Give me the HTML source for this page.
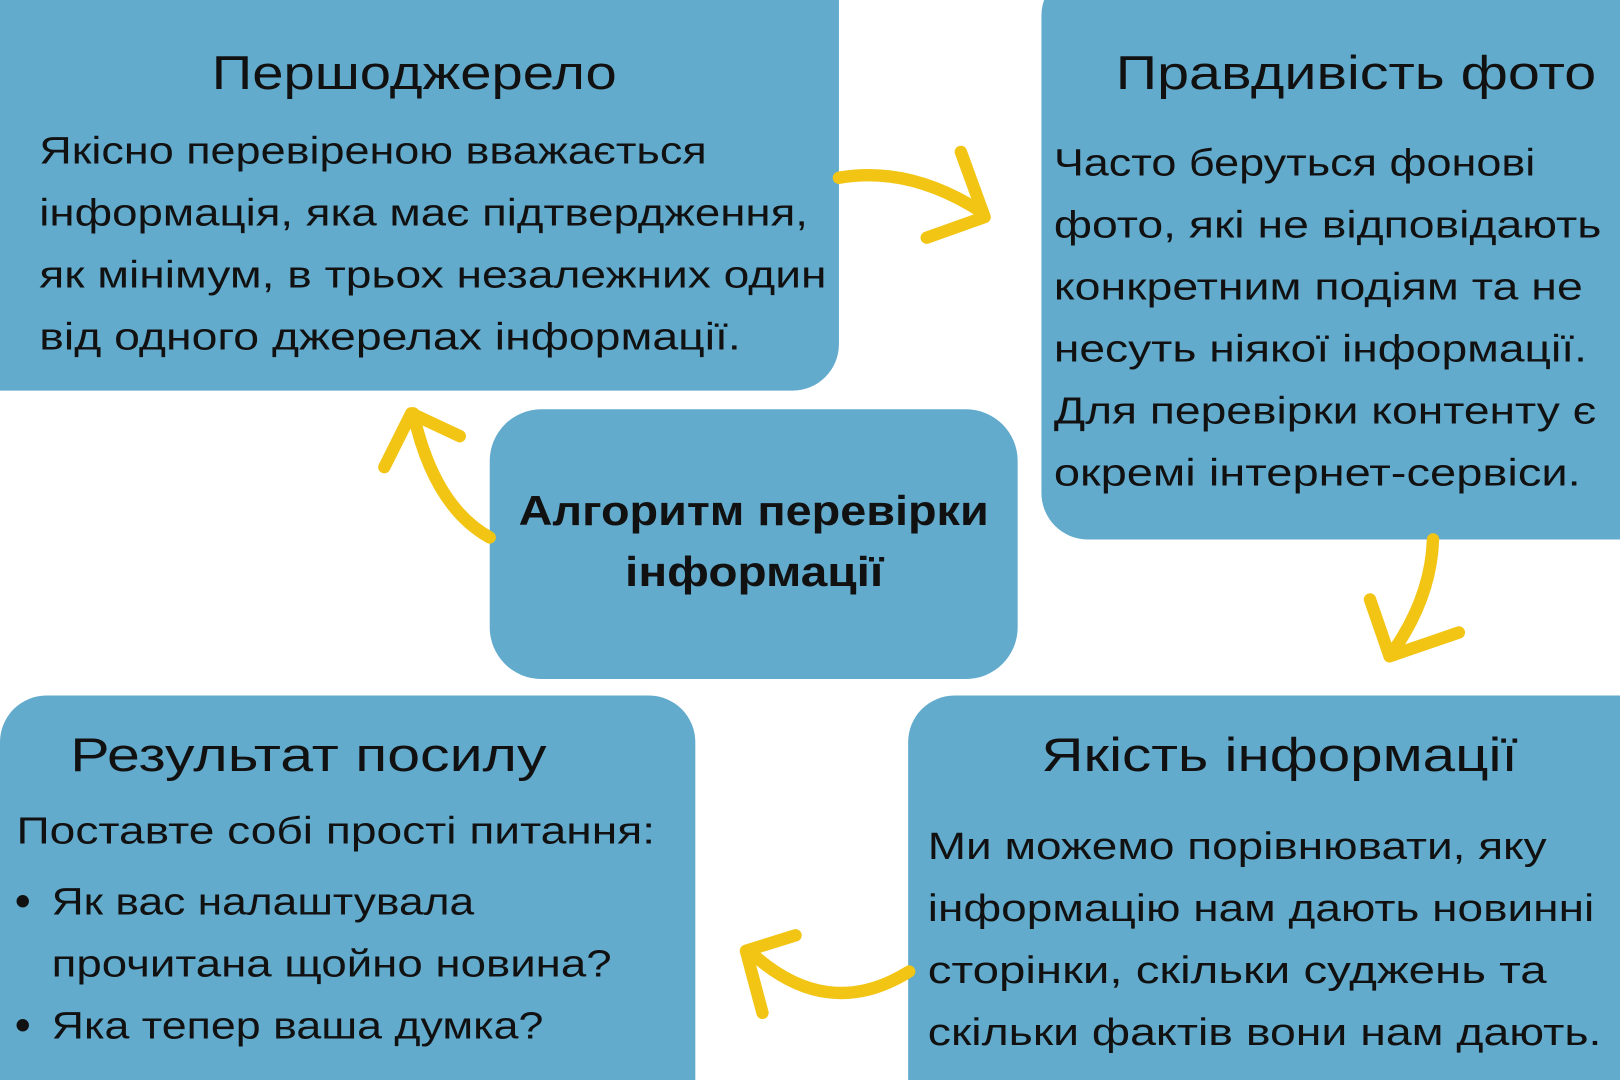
<!DOCTYPE html>
<html><head><meta charset="utf-8"><style>
html,body{margin:0;padding:0;background:#fff;width:1620px;height:1080px;overflow:hidden}
svg{display:block}
text{font-family:"Liberation Sans","DejaVu Sans",sans-serif;fill:#111}
.t{font-size:46px}
.b{font-size:37px}
.c{font-size:40px;font-weight:bold}
</style></head><body>
<svg width="1620" height="1080" viewBox="0 0 1568 1045" preserveAspectRatio="none">
<g fill="#62abcd">
<rect x="-60" y="-60" width="872" height="438" rx="45"/>
<rect x="1008" y="-30" width="620" height="552" rx="45"/>
<rect x="474" y="396" width="511" height="261" rx="50"/>
<rect x="0" y="673" width="673" height="420" rx="45"/>
<rect x="879" y="673" width="740" height="420" rx="45"/>
</g>
<g fill="none" stroke="#f2c515" stroke-width="12" stroke-linecap="round" stroke-linejoin="round">
<path d="M812,172 Q880,160 950,205"/>
<path d="M930,147 L953,210 L897,230"/>
<path d="M1387,522 Q1385,580 1345,635"/>
<path d="M1326,580 L1345,635 L1412,612"/>
<path d="M880,940 Q800,990 725,920"/>
<path d="M738,980 L722,920 L770,905"/>
<path d="M474,520 Q420,490 400,400"/>
<path d="M372,452 L398,400 L445,422"/>
</g>
<g lengthAdjust="spacingAndGlyphs">
<text class="t" x="205" y="86" textLength="392" lengthAdjust="spacingAndGlyphs">Першоджерело</text>
<text class="b" x="38" y="158" textLength="646" lengthAdjust="spacingAndGlyphs">Якісно перевіреною вважається</text>
<text class="b" x="38" y="218" textLength="744" lengthAdjust="spacingAndGlyphs">інформація, яка має підтвердження,</text>
<text class="b" x="38" y="278" textLength="762" lengthAdjust="spacingAndGlyphs">як мінімум, в трьох незалежних один</text>
<text class="b" x="38" y="338" textLength="679" lengthAdjust="spacingAndGlyphs">від одного джерелах інформації.</text>

<text class="t" x="1080" y="86" textLength="465" lengthAdjust="spacingAndGlyphs">Правдивість фото</text>
<text class="b" x="1020" y="170" textLength="466" lengthAdjust="spacingAndGlyphs">Часто беруться фонові</text>
<text class="b" x="1020" y="230" textLength="530" lengthAdjust="spacingAndGlyphs">фото, які не відповідають</text>
<text class="b" x="1020" y="290" textLength="512" lengthAdjust="spacingAndGlyphs">конкретним подіям та не</text>
<text class="b" x="1020" y="350" textLength="516" lengthAdjust="spacingAndGlyphs">несуть ніякої інформації.</text>
<text class="b" x="1020" y="410" textLength="525" lengthAdjust="spacingAndGlyphs">Для перевірки контенту є</text>
<text class="b" x="1020" y="470" textLength="510" lengthAdjust="spacingAndGlyphs">окремі інтернет-сервіси.</text>

<text class="c" x="502" y="508" textLength="455" lengthAdjust="spacingAndGlyphs">Алгоритм перевірки</text>
<text class="c" x="605" y="567" textLength="250" lengthAdjust="spacingAndGlyphs">інформації</text>

<text class="t" x="68" y="746" textLength="461" lengthAdjust="spacingAndGlyphs">Результат посилу</text>
<text class="b" x="16" y="816" textLength="618" lengthAdjust="spacingAndGlyphs">Поставте собі прості питання:</text>
<circle cx="22" cy="872" r="6" fill="#111"/>
<text class="b" x="50" y="885" textLength="409" lengthAdjust="spacingAndGlyphs">Як вас налаштувала</text>
<text class="b" x="50" y="945" textLength="542" lengthAdjust="spacingAndGlyphs">прочитана щойно новина?</text>
<circle cx="22" cy="992" r="6" fill="#111"/>
<text class="b" x="50" y="1005" textLength="476" lengthAdjust="spacingAndGlyphs">Яка тепер ваша думка?</text>

<text class="t" x="1008" y="746" textLength="461" lengthAdjust="spacingAndGlyphs">Якість інформації</text>
<text class="b" x="898" y="831" textLength="599" lengthAdjust="spacingAndGlyphs">Ми можемо порівнювати, яку</text>
<text class="b" x="898" y="891" textLength="645" lengthAdjust="spacingAndGlyphs">інформацію нам дають новинні</text>
<text class="b" x="898" y="951" textLength="599" lengthAdjust="spacingAndGlyphs">сторінки, скільки суджень та</text>
<text class="b" x="898" y="1011" textLength="652" lengthAdjust="spacingAndGlyphs">скільки фактів вони нам дають.</text>
</g>
</svg>
</body></html>
